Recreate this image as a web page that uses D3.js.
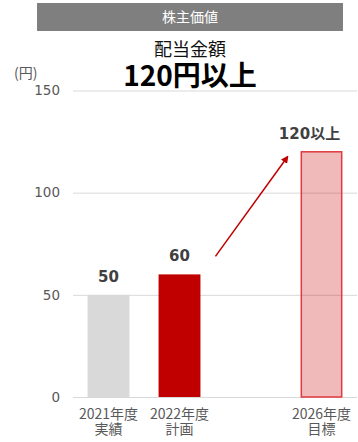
<!DOCTYPE html>
<html>
<head>
<meta charset="utf-8">
<script src="https://cdn.jsdelivr.net/npm/d3@7"></script>
<style>
  html, body { margin: 0; padding: 0; background: #fff; }
  svg { display: block; }
</style>
</head>
<body>
<svg id="chart" width="358" height="442"></svg>
<script>
// Dividend per share: actual, plan, and target
const categories = ["2021年度|実績", "2022年度|計画", "", "2026年度|目標"];
const values = [50, 60, null, 120];
const valueLabels = ["50", "60", null, "120以上"];
const yTicks = [0, 50, 100, 150];
const headerText = "株主価値";
const titleText = "配当金額";
const headlineText = "120円以上";
const unitText = "(円)";

const svg = d3.select("#chart");
const jp = "'Noto Sans CJK JP', sans-serif";
const num = "'DejaVu Sans', 'Noto Sans CJK JP', sans-serif";

// Header band
svg.append("rect").attr("x", 37).attr("y", 3).attr("width", 306).attr("height", 28)
  .attr("fill", "#7f7f7f");
svg.append("text").attr("x", 190).attr("y", 22).attr("text-anchor", "middle")
  .attr("font-family", jp).attr("font-size", 14).attr("fill", "#fff").text(headerText);

// Titles
svg.append("text").attr("x", 190).attr("y", 56).attr("text-anchor", "middle")
  .attr("font-family", jp).attr("font-size", 18).attr("fill", "#111").text(titleText);
svg.append("text").attr("x", 190).attr("y", 86).attr("text-anchor", "middle")
  .attr("font-family", jp).attr("font-weight", "bold").attr("font-size", 28)
  .attr("fill", "#000").text(headlineText);

// Scales
const x = d3.scaleBand().domain(categories).range([73, 357])
  .paddingInner(0.41).paddingOuter(0.205);
const y = d3.scaleLinear().domain([0, 150]).range([397, 90.5]);

// Unit label
svg.append("text").attr("x", 14).attr("y", 78)
  .attr("font-family", jp).attr("font-size", 14).attr("fill", "#595959").text(unitText);

// Gridlines and y tick labels
const yAxis = d3.axisLeft(y).tickValues(yTicks).tickSize(-(357 - 73)).tickPadding(13);
const gy = svg.append("g").attr("transform", "translate(73,0)").call(yAxis);
gy.select(".domain").remove();
gy.selectAll(".tick line").attr("stroke", "#d9d9d9").attr("stroke-width", 1);
gy.selectAll(".tick text").attr("font-family", num).attr("font-size", 13.5)
  .attr("fill", "#595959");

// Bars
const fills = ["#d9d9d9", "#c00000", "none", "rgba(200,0,0,0.27)"];
const strokes = ["none", "none", "none", "#e03a3f"];
const data = categories.map((c, i) => ({ c, v: values[i], label: valueLabels[i], fill: fills[i], stroke: strokes[i] }))
  .filter(d => d.v !== null);

svg.append("g").selectAll("rect").data(data).join("rect")
  .attr("x", d => x(d.c) + (d.stroke !== "none" ? 0.75 : 0))
  .attr("y", d => y(d.v))
  .attr("width", d => x.bandwidth() - (d.stroke !== "none" ? 1.5 : 0))
  .attr("height", d => y(0) - y(d.v))
  .attr("fill", d => d.fill)
  .attr("stroke", d => d.stroke)
  .attr("stroke-width", 1.5);

// Value labels
const labelShift = { "120以上": -12 };
svg.append("g").selectAll("text").data(data).join("text")
  .attr("x", d => x(d.c) + x.bandwidth() / 2 + (labelShift[d.label] || 0))
  .attr("y", d => y(d.v) - 13)
  .attr("text-anchor", "middle")
  .attr("font-family", num).attr("font-weight", "bold").attr("font-size", 15)
  .attr("fill", "#404040")
  .text(d => d.label);

// Category labels (two lines)
const gx = svg.append("g");
categories.forEach(c => {
  if (!c) return;
  const [l1, l2] = c.split("|");
  const cx = x(c) + x.bandwidth() / 2;
  const t = gx.append("text").attr("text-anchor", "middle")
    .attr("font-family", jp).attr("font-size", 14).attr("fill", "#595959");
  t.append("tspan").attr("x", cx).attr("y", 419).text(l1);
  t.append("tspan").attr("x", cx).attr("y", 434).text(l2);
});

// Growth arrow from the plan bar toward the target bar
const defs = svg.append("defs");
defs.append("marker").attr("id", "arrowhead")
  .attr("viewBox", "0 0 10 10").attr("refX", 8).attr("refY", 5)
  .attr("markerWidth", 5).attr("markerHeight", 5).attr("orient", "auto")
  .append("path").attr("d", "M0,0 L10,5 L0,10 Z").attr("fill", "#c00000");

const c2 = categories[1], c3 = categories[3];
svg.append("line")
  .attr("x1", x(c2) + x.bandwidth() + 15).attr("y1", y(values[1]) - 18)
  .attr("x2", x(c3) - 13).attr("y2", y(values[3]) + 5)
  .attr("stroke", "#c00000").attr("stroke-width", 1.5)
  .attr("marker-end", "url(#arrowhead)");
</script>
</body>
</html>
